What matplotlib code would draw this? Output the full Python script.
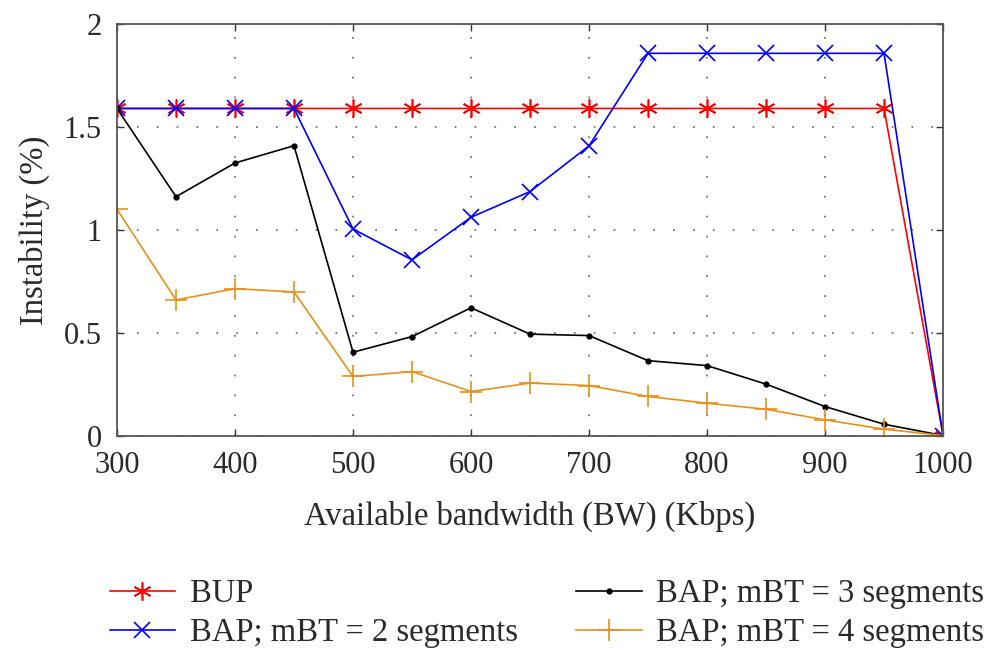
import matplotlib
matplotlib.use("Agg")
import matplotlib.pyplot as plt

bandwidth = [300, 350, 400, 450, 500, 550, 600, 650, 700, 750, 800, 850, 900, 950, 1000]
bup = [1.59, 1.59, 1.59, 1.59, 1.59, 1.59, 1.59, 1.59, 1.59, 1.59, 1.59, 1.59, 1.59, 1.59, 0.0]
bap_mbt2 = [1.59, 1.59, 1.59, 1.59, 1.004, 0.854, 1.061, 1.186, 1.408, 1.858, 1.858, 1.858, 1.858, 1.858, 0.0]
bap_mbt3 = [1.59, 1.161, 1.325, 1.409, 0.405, 0.481, 0.621, 0.493, 0.486, 0.364, 0.340, 0.250, 0.141, 0.055, 0.0]
bap_mbt4 = [1.10, 0.659, 0.714, 0.698, 0.287, 0.311, 0.214, 0.255, 0.243, 0.190, 0.157, 0.128, 0.076, 0.031, 0.0]

labels = ["BUP", "BAP; mBT = 2 segments", "BAP; mBT = 3 segments", "BAP; mBT = 4 segments"]
xticks = [300, 400, 500, 600, 700, 800, 900, 1000]
yticks = [0, 0.5, 1, 1.5, 2]
ytick_labels = ["0", "0.5", "1", "1.5", "2"]

plt.rcParams['font.family'] = ['Liberation Serif', 'DejaVu Serif']
plt.rcParams['font.size'] = 22

fig = plt.figure(figsize=(9.89, 6.52), dpi=100)
ax = fig.add_axes([0.1183, 0.332, 0.9535 - 0.1183, 0.963 - 0.332])

ax.plot(bandwidth, bup, color='#ff0000', marker=(6, 2, 0), markersize=13, markeredgewidth=1.2, linewidth=1.2, label=labels[0])
ax.plot(bandwidth, bap_mbt2, color='#0000ff', marker='x', markersize=11, markeredgewidth=1.2, linewidth=1.2, label=labels[1])
ax.plot(bandwidth, bap_mbt3, color='black', marker='.', markersize=7, linewidth=1.2, label=labels[2])
ax.plot(bandwidth, bap_mbt4, color='#e8901a', marker='+', markersize=16, markeredgewidth=1.2, linewidth=1.2, label=labels[3])

ax.set_xlim(300, 1000)
ax.set_ylim(0, 2)
ax.set_xticks(xticks)
ax.set_yticks(yticks)
ax.set_yticklabels(ytick_labels)
ax.tick_params(direction='in', top=True, right=True, length=5, width=1, colors='#333333',
               labelcolor='#2a2a2a', labelsize=22)
ax.tick_params(axis='x', pad=11)
ax.tick_params(axis='y', pad=11)
ax.grid(True, linestyle=(0, (1, 10)), color='#777777', linewidth=1.3)
for s in ax.spines.values():
    s.set_color('#555555')
    s.set_linewidth(1.3)

ax.set_xlabel("Available bandwidth (BW) (Kbps)", color='#2a2a2a', fontsize=23.5, labelpad=15)
ax.set_ylabel("Instability (%)", color='#2a2a2a', fontsize=23.5, labelpad=10)

handles, labs = ax.get_legend_handles_labels()
fig.legend(handles, labs, ncol=2, frameon=False,
           loc='upper left', bbox_to_anchor=(0.111, 0.112), borderpad=0, borderaxespad=0,
           columnspacing=1.8, handlelength=2.0, handletextpad=0.45, labelspacing=0.25,
           fontsize=23.5, labelcolor='#2a2a2a')

fig.savefig("out.png", dpi=100)
